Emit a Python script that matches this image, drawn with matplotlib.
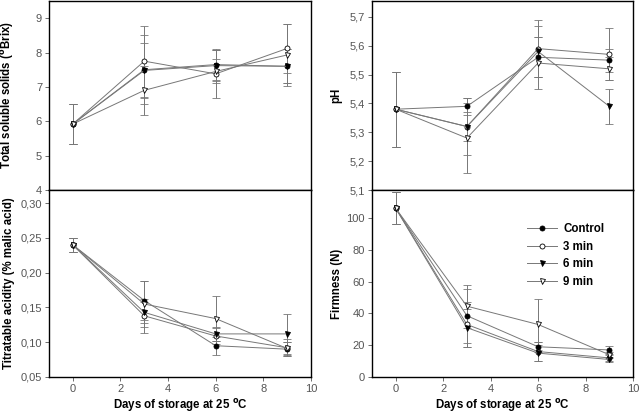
import numpy as np
import matplotlib.pyplot as plt
from matplotlib.ticker import FuncFormatter

plt.rcParams['font.family'] = ['Liberation Sans', 'DejaVu Sans']

days = [0, 3, 6, 9]
treatments = ['Control', '3 min', '6 min', '9 min']
markers = ['o', 'o', 'v', 'v']
faces = ['black', 'white', 'black', 'white']

# total soluble solids (oBrix)
tss = [[5.92, 7.50, 7.65, 7.60],
       [5.92, 7.75, 7.38, 8.12],
       [5.92, 7.48, 7.62, 7.60],
       [5.92, 6.90, 7.45, 7.93]]
tss_err = [[0.58, 1.00, 0.45, 0.50],
           [0.58, 1.03, 0.70, 0.72],
           [0.58, 0.80, 0.45, 0.50],
           [0.58, 0.72, 0.35, 0.90]]

# pH
ph = [[5.38, 5.39, 5.56, 5.55],
      [5.38, 5.32, 5.59, 5.57],
      [5.38, 5.32, 5.58, 5.39],
      [5.38, 5.28, 5.54, 5.52]]
ph_err = [[0.13, 0.03, 0.07, 0.04],
          [0.13, 0.10, 0.10, 0.09],
          [0.13, 0.05, 0.09, 0.06],
          [0.13, 0.12, 0.09, 0.04]]

# titratable acidity (% malic acid)
ta = [[0.240, 0.160, 0.095, 0.090],
      [0.240, 0.138, 0.109, 0.092],
      [0.240, 0.143, 0.112, 0.112],
      [0.240, 0.155, 0.134, 0.091]]
ta_err = [[0.010, 0.028, 0.013, 0.010],
          [0.010, 0.024, 0.012, 0.012],
          [0.010, 0.015, 0.010, 0.029],
          [0.010, 0.033, 0.032, 0.010]]

# firmness (N)
firm = [[106, 38.5, 19, 17],
        [106, 33, 16, 12],
        [106, 31, 15, 11],
        [106, 44.5, 33, 14]]
firm_err = [[10, 17, 3, 2.5],
            [10, 14, 6, 2],
            [10, 12, 5, 1.5],
            [10, 13.5, 16, 2]]

comma = FuncFormatter(lambda v, p: ('%g' % v).replace('.', ','))
comma2 = FuncFormatter(lambda v, p: ('%.2f' % v).replace('.', ','))
comma1 = FuncFormatter(lambda v, p: ('%.1f' % v).replace('.', ','))

fig = plt.figure(figsize=(6.4, 4.13), dpi=100)
L1, R1 = 49 / 640, 311 / 640
L2, R2 = 372 / 640, 633 / 640
TOP, MID, BOT = 1 - 1 / 413, 1 - 190 / 413, 1 - 377 / 413
ax_tss = fig.add_axes([L1, MID, R1 - L1, TOP - MID])
ax_ph = fig.add_axes([L2, MID, R2 - L2, TOP - MID])
ax_ta = fig.add_axes([L1, BOT, R1 - L1, MID - BOT])
ax_fi = fig.add_axes([L2, BOT, R2 - L2, MID - BOT])

LABEL = dict(fontsize=8.3, fontweight='bold')

def draw(ax, vals, errs):
    for i in range(4):
        ax.errorbar(days, vals[i], yerr=errs[i], color='#777777', lw=0.7,
                    elinewidth=0.7, capsize=3, capthick=0.7,
                    marker=markers[i], ms=3.6, mfc=faces[i], mec='black',
                    mew=0.6, label=treatments[i], zorder=3)
    ax.set_xlim(-1, 10)
    ax.set_xticks([0, 2, 4, 6, 8, 10])
    ax.tick_params(direction='out', colors='#555555', labelsize=8,
                   length=3, width=0.6, pad=2)
    for s in ax.spines.values():
        s.set_linewidth(1.0)
        s.set_color('black')

draw(ax_tss, tss, tss_err)
ax_tss.set_ylim(4, 9.5)
ax_tss.set_yticks([4, 5, 6, 7, 8, 9])
ax_tss.yaxis.set_major_formatter(comma)
ax_tss.tick_params(axis='x', labelbottom=False)
ax_tss.set_ylabel('Total soluble solids ($^{\\mathbf{o}}$Brix)', **LABEL)

draw(ax_ph, ph, ph_err)
ax_ph.set_ylim(5.1, 5.755)
ax_ph.set_yticks(np.arange(5.1, 5.71, 0.1))
ax_ph.yaxis.set_major_formatter(comma1)
ax_ph.tick_params(axis='x', labelbottom=False)
ax_ph.set_ylabel('pH', **LABEL)

draw(ax_ta, ta, ta_err)
ax_ta.set_ylim(0.05, 0.319)
ax_ta.set_yticks(np.arange(0.05, 0.301, 0.05))
ax_ta.yaxis.set_major_formatter(comma2)
ax_ta.set_ylabel('Titratable acidity (% malic acid)', **LABEL)
ax_ta.set_xlabel('Days of storage at 25 $^{\\mathbf{o}}$C', labelpad=2, **LABEL)

draw(ax_fi, firm, firm_err)
ax_fi.set_ylim(0, 117.5)
ax_fi.set_yticks([0, 20, 40, 60, 80, 100])
ax_fi.set_ylabel('Firmness (N)', **LABEL)
ax_fi.set_xlabel('Days of storage at 25 $^{\\mathbf{o}}$C', labelpad=2, **LABEL)
handles, labels = ax_fi.get_legend_handles_labels()
handles = [h[0] for h in handles]
leg = ax_fi.legend(handles, labels, loc='upper right',
                   bbox_to_anchor=(0.93, 0.88), frameon=False,
                   fontsize=8.3, handlelength=2.6, labelspacing=0.5,
                   handletextpad=0.5)
for t in leg.get_texts():
    t.set_fontweight('bold')

ax_tss.yaxis.set_label_coords(-0.125, 0.5)
ax_ta.yaxis.set_label_coords(-0.13, 0.5)
ax_ph.yaxis.set_label_coords(-0.115, 0.5)
ax_fi.yaxis.set_label_coords(-0.11, 0.5)

fig.savefig('out.png', dpi=100)
